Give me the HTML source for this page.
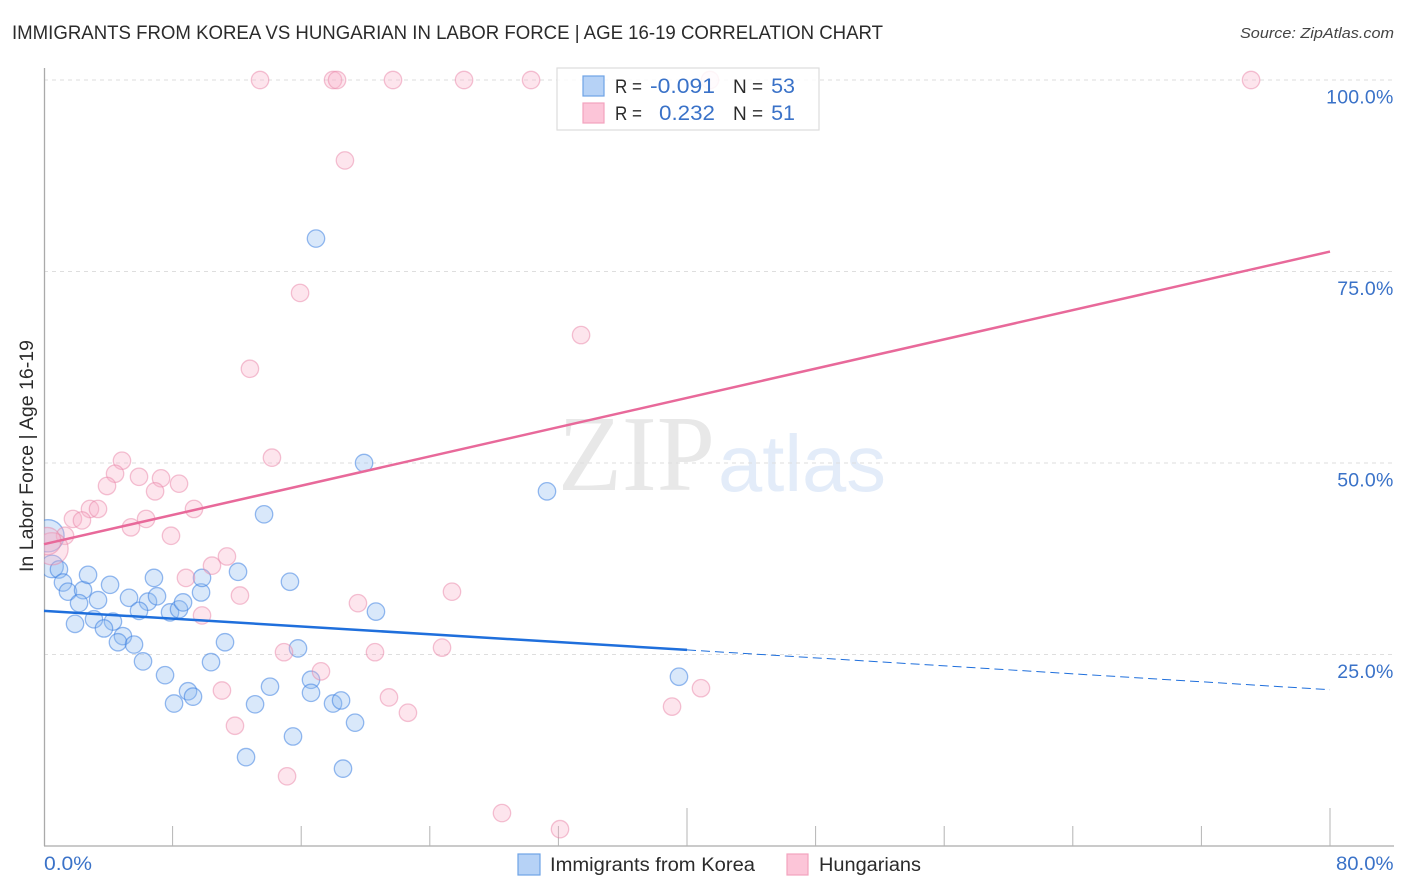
<!DOCTYPE html>
<html lang="en">
<head>
<meta charset="utf-8">
<title>Immigrants from Korea vs Hungarian in Labor Force | Age 16-19 Correlation Chart</title>
<style>
  html, body { margin: 0; padding: 0; background: #fff; }
  svg { display: block; font-family: "Liberation Sans", sans-serif; }
</style>
</head>
<body>
<svg id="chart" xmlns="http://www.w3.org/2000/svg" width="1406" height="892" viewBox="0 0 1406 892">
  <defs>
    <clipPath id="plot-clip"><rect x="44" y="60" width="1350" height="786"></rect></clipPath>
  </defs>
  <rect x="0" y="0" width="1406" height="892" fill="#ffffff"></rect>
  <text x="12" y="39" font-size="19.5" fill="#2b2b2b" textLength="871" lengthAdjust="spacingAndGlyphs">IMMIGRANTS FROM KOREA VS HUNGARIAN IN LABOR FORCE | AGE 16-19 CORRELATION CHART</text>
  <text x="1394" y="38" font-size="15" font-style="italic" fill="#444444" text-anchor="end" textLength="154" lengthAdjust="spacingAndGlyphs">Source: ZipAtlas.com</text>

  <g>
    <text x="558" y="490" font-family="'Liberation Serif', serif" font-size="108" fill="#e8e8e8" textLength="157" lengthAdjust="spacingAndGlyphs">ZIP</text>
    <text x="718" y="491" font-size="80" fill="#e3ecf9" textLength="168" lengthAdjust="spacingAndGlyphs">atlas</text>
  </g>

  <g id="grid"></g>
  <g id="axes"></g>
  <g id="points-korea" clip-path="url(#plot-clip)"></g>
  <g id="points-hungarian" clip-path="url(#plot-clip)"></g>
  <g id="trends"></g>
  <g id="tick-labels"></g>

  <text transform="translate(33,456) rotate(-90)" font-size="19" fill="#2b2b2b" text-anchor="middle" textLength="232" lengthAdjust="spacingAndGlyphs">In Labor Force | Age 16-19</text>

  <g>
    <rect x="557" y="68" width="262" height="62" fill="#ffffff" fill-opacity="0.85" stroke="#dddddd" stroke-width="1.2"></rect>
    <rect x="583" y="76" width="21" height="20" fill="#b6d2f6" stroke="#6fa3e6" stroke-width="1.2"></rect>
    <rect x="583" y="103" width="21" height="20" fill="#fcc5d8" stroke="#f3a3bf" stroke-width="1.2"></rect>
    <text x="615" y="93" font-size="19" fill="#2b2b2b" textLength="27" lengthAdjust="spacingAndGlyphs">R =</text>
    <text x="650" y="93" font-size="21.5" fill="#3a72c8" textLength="65" lengthAdjust="spacingAndGlyphs">-0.091</text>
    <text x="733" y="93" font-size="19" fill="#2b2b2b">N =</text>
    <text x="795" y="93" font-size="21.5" fill="#3a72c8" text-anchor="end">53</text>
    <text x="615" y="120" font-size="19" fill="#2b2b2b" textLength="27" lengthAdjust="spacingAndGlyphs">R =</text>
    <text x="659" y="120" font-size="21.5" fill="#3a72c8" textLength="56" lengthAdjust="spacingAndGlyphs">0.232</text>
    <text x="733" y="120" font-size="19" fill="#2b2b2b">N =</text>
    <text x="795" y="120" font-size="21.5" fill="#3a72c8" text-anchor="end">51</text>
  </g>

  <g>
    <g>
      <rect x="518" y="854" width="22" height="21" fill="#b6d2f6" stroke="#6fa3e6" stroke-width="1.2"></rect>
      <text x="550" y="871" font-size="19" fill="#2b2b2b" textLength="205" lengthAdjust="spacingAndGlyphs">Immigrants from Korea</text>
    </g>
    <g>
      <rect x="787" y="854" width="21" height="21" fill="#fcc5d8" stroke="#f3a3bf" stroke-width="1.2"></rect>
      <text x="819" y="871" font-size="19" fill="#2b2b2b" textLength="102" lengthAdjust="spacingAndGlyphs">Hungarians</text>
    </g>
  </g>
</svg>

<script>
// ---- chart data (percent values) ----
const koreaX = [0.25,0.5,0.93,1.18,1.49,2.43,2.74,4.11,2.18,3.36,1.93,3.11,4.29,3.73,4.91,4.60,5.60,6.16,5.29,6.47,7.03,6.84,5.91,7.84,8.40,8.65,9.77,9.83,7.53,8.96,9.27,8.09,10.39,11.26,12.07,13.69,15.30,20.65,15.80,14.06,13.13,16.61,16.61,17.98,18.48,19.35,15.49,12.57,18.60,19.91,16.92,31.29,39.50];
const koreaY = [40.5,36.5,36.1,34.4,33.2,33.4,35.4,34.1,31.7,32.1,29.0,29.6,29.3,28.4,27.4,26.6,26.3,24.1,32.4,31.9,32.6,35.0,30.7,30.5,30.9,31.8,33.1,35.0,22.3,20.2,19.5,18.6,24.0,26.6,35.8,43.3,34.5,30.6,25.8,20.8,18.5,21.7,20.0,18.6,19.0,16.1,14.3,11.6,10.1,50.0,79.3,46.3,22.1];
const koreaWeight = [4,2,1,1,1,1,1,1,1,1,1,1,1,1,1,1,1,1,1,1,1,1,1,1,1,1,1,1,1,1,1,1,1,1,1,1,1,1,1,1,1,1,1,1,1,1,1,1,1,1,1,1,1];

const hungarianX = [13.44,17.98,18.23,21.71,26.13,30.30,41.43,75.09,18.72,15.93,12.81,33.41,14.18,4.85,4.42,3.92,5.91,7.28,6.91,8.40,9.33,2.86,3.36,1.80,2.36,6.35,5.41,7.90,1.31,0.5,0.2,11.38,10.45,8.83,12.19,25.38,19.53,9.83,14.93,20.59,24.76,17.23,11.07,21.46,22.64,11.88,15.12,28.49,32.10,39.07,40.87];
const hungarianY = [100,100,100,100,100,100,100,100,89.5,72.2,62.3,66.7,50.7,50.3,48.6,47.0,48.2,48.0,46.3,47.3,44.0,44.0,44.0,42.7,42.5,42.7,41.6,40.5,40.5,38.8,39.8,37.8,36.6,35.0,32.7,33.2,31.7,30.1,25.3,25.3,25.9,22.8,20.3,19.4,17.4,15.7,9.1,4.3,2.2,18.2,20.6];
const hungarianWeight = [1,1,1,1,1,1,1,1,1,1,1,1,1,1,1,1,1,1,1,1,1,1,1,1,1,1,1,1,1,4,3,1,1,1,1,1,1,1,1,1,1,1,1,1,1,1,1,1,1,1,1];

// trend-line values: [x start, x end of solid, x end of dashed] and matching y values
const koreaTrendX = [0, 40, 80];
const koreaTrendY = [30.7, 25.6, 20.4];
const hungarianTrendX = [0, 80];
const hungarianTrendY = [39.4, 77.6];

const yTickValues = [25, 50, 75, 100];
const yTickLabels = ["25.0%", "50.0%", "75.0%", "100.0%"];
const xTickValues = [0, 8, 16, 24, 32, 40, 48, 56, 64, 72, 80];
const xMajorTicks = [0, 40, 80];
const xEdgeLabels = ["0.0%", "80.0%"];

// ---- axis functions ----
function xScale(v) { return 44 + (v / 80) * 1286; }
function yScale(v) { return 846 - (v / 100) * 766; }

const SVG_NS = "http://www.w3.org/2000/svg";
function make(tag, attrs, parent) {
  const el = document.createElementNS(SVG_NS, tag);
  for (const k in attrs) el.setAttribute(k, attrs[k]);
  parent.appendChild(el);
  return el;
}

const gridG = document.getElementById("grid");
const axesG = document.getElementById("axes");
const labelG = document.getElementById("tick-labels");
const koreaG = document.getElementById("points-korea");
const hungarianG = document.getElementById("points-hungarian");
const trendG = document.getElementById("trends");

// gridlines and y tick labels
yTickValues.forEach(function (v, i) {
  const line = make("line", { x1: 44, x2: 1394, y1: yScale(v), y2: yScale(v), stroke: "#dedede", "stroke-width": 1, "stroke-dasharray": "4 4" }, gridG);
  
  
  const label = make("text", { x: 1393.5, y: yScale(v) + 23.5, "font-size": 19.5, fill: "#3a72c8", "text-anchor": "end", "letter-spacing": "0.2" }, labelG);
  label.textContent = yTickLabels[i];
  
  
});

// axis lines
const yAxisLine = make("line", { x1: 44.5, x2: 44.5, y1: 68, y2: 846, stroke: "#aaaaaa", "stroke-width": 1.3 }, axesG);


const xAxisLine = make("line", { x1: 44, x2: 1394, y1: 846, y2: 846, stroke: "#aaaaaa", "stroke-width": 1.3 }, axesG);



// x ticks
xTickValues.forEach(function (v) {
  if (v === 0) return;
  const top = xMajorTicks.indexOf(v) >= 0 ? 808 : 826;
  const tick = make("line", { x1: xScale(v), x2: xScale(v), y1: top, y2: 846, stroke: "#b4b4b4", "stroke-width": 1 }, axesG);
  
  
});

// x edge labels
const xLabelStart = make("text", { x: xScale(0), y: 870, "font-size": 19.5, fill: "#3a72c8", textLength: 48, lengthAdjust: "spacingAndGlyphs" }, labelG);
xLabelStart.textContent = xEdgeLabels[0];


const xLabelEnd = make("text", { x: 1336, y: 870, "font-size": 19.5, fill: "#3a72c8", textLength: 57.5, lengthAdjust: "spacingAndGlyphs" }, labelG);
xLabelEnd.textContent = xEdgeLabels[1];



// point radius from weight
function radius(w) { return w === 1 ? 8.7 : 6.5 + w * 2.4; }

// scatter points
koreaX.forEach(function (v, i) {
  const c = make("circle", { cx: xScale(v), cy: yScale(koreaY[i]), r: radius(koreaWeight[i]), fill: "rgba(140,185,240,0.33)", stroke: "rgba(55,125,225,0.52)", "stroke-width": 1.3 }, koreaG);
  
  
});
hungarianX.forEach(function (v, i) {
  const c = make("circle", { cx: xScale(v), cy: yScale(hungarianY[i]), r: radius(hungarianWeight[i]), fill: "rgba(250,175,200,0.33)", stroke: "rgba(232,130,165,0.48)", "stroke-width": 1.3 }, hungarianG);
  
  
});

// trend lines
const koreaSolid = make("line", { x1: xScale(koreaTrendX[0]), y1: yScale(koreaTrendY[0]), x2: xScale(koreaTrendX[1]), y2: yScale(koreaTrendY[1]), stroke: "#1f6fdc", "stroke-width": 2.5 }, trendG);


const koreaDash = make("line", { x1: xScale(koreaTrendX[1]), y1: yScale(koreaTrendY[1]), x2: xScale(koreaTrendX[2]), y2: yScale(koreaTrendY[2]), stroke: "#1f6fdc", "stroke-width": 1, "stroke-dasharray": "9 5" }, trendG);


const hungarianLine = make("line", { x1: xScale(hungarianTrendX[0]), y1: yScale(hungarianTrendY[0]), x2: xScale(hungarianTrendX[1]), y2: yScale(hungarianTrendY[1]), stroke: "#e8699a", "stroke-width": 2.5 }, trendG);


</script>
</body>
</html>
